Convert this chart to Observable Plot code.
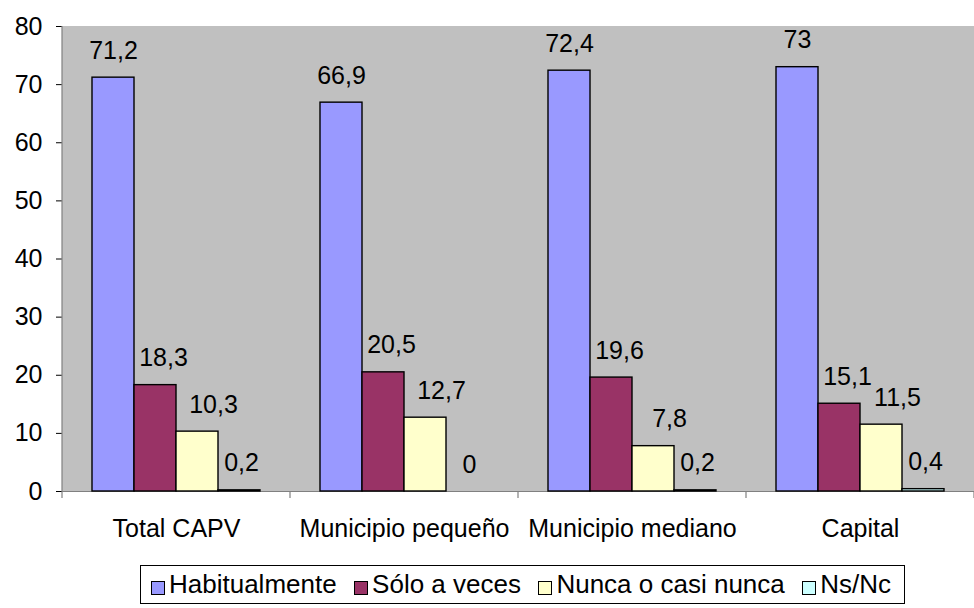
<!DOCTYPE html>
<html>
<head>
<meta charset="utf-8">
<script src="https://cdn.jsdelivr.net/npm/d3@7"></script>
<script src="https://cdn.jsdelivr.net/npm/@observablehq/plot@0.6"></script>
<style>
  body { margin: 0; background: #fff; }
  #wrap { position: relative; width: 974px; height: 608px; font-family: "Liberation Sans", Arial, sans-serif; }
  #legend { position: absolute; left: 140px; top: 565px; width: 740px; height: 37px; border: 1px solid #000;
    padding: 0 13px 0 10px; display: flex; align-items: center; justify-content: space-between;
    font-size: 26px; font-family: "Liberation Sans", Arial, sans-serif; color: #000; }
  .item { display: flex; align-items: center; white-space: nowrap; }
  .sw { width: 12px; height: 12px; border: 1px solid #000; margin-right: 4px; position: relative; top: 3px; }
  #chart svg text { font-family: "Liberation Sans", Arial, sans-serif; }
</style>
</head>
<body>
<div id="wrap"><div id="chart"></div><div id="legend"></div></div>
<script>
const categories = ["Total CAPV", "Municipio pequeño", "Municipio mediano", "Capital"];
const series = ["Habitualmente", "Sólo a veces", "Nunca o casi nunca", "Ns/Nc"];
const habitualmente = [71.2, 66.9, 72.4, 73];
const soloAVeces = [18.3, 20.5, 19.6, 15.1];
const nuncaOCasiNunca = [10.3, 12.7, 7.8, 11.5];
const nsNc = [0.2, 0, 0.2, 0.4];
const yTicks = [0, 10, 20, 30, 40, 50, 60, 70, 80];
const colors = ["#9999FF", "#993366", "#FFFFCC", "#CCFFFF"];

const seriesValues = [habitualmente, soloAVeces, nuncaOCasiNunca, nsNc];
const data = [];
categories.forEach((c, i) => series.forEach((s, j) => data.push({cat: c, series: s, value: seriesValues[j][i]})));
const fmt = d => String(d.value).replace(".", ",");
const labelDx = [0, 8, 16, 2];

const textMarks = series.map((s, j) => Plot.text(data.filter(d => d.series === s), {
  fx: "cat", x: "series", y: "value", text: fmt, dy: -27, dx: labelDx[j],
  fontSize: 25, fill: "#000"
}));

const plot = Plot.plot({
  width: 974, height: 558,
  marginLeft: 61, marginRight: 0, marginTop: 26, marginBottom: 67,
  style: {fontFamily: "Liberation Sans, Arial, sans-serif", fontSize: "25px", background: "transparent"},
  fx: {domain: categories, padding: 0, label: null},
  x: {domain: series, paddingInner: 0, paddingOuter: 0.714, axis: null},
  y: {domain: [0, 80], label: null},
  color: {domain: series, range: colors},
  marks: [
    Plot.ruleY([0], {stroke: "#808080", strokeWidth: 1.2}),
    Plot.barY(data, {fx: "cat", x: "series", y: "value", fill: "series", stroke: "#000", strokeWidth: 1.4}),
    ...textMarks,
    Plot.axisY({ticks: yTicks, tickSize: 6, tickPadding: 14, fontSize: 25, label: null, stroke: "#000", fill: "#000"}),
    Plot.axisFx({anchor: "bottom", tickSize: 0, tickPadding: 28, fontSize: 25, label: null, fill: "#000"})
  ]
});
document.getElementById("chart").appendChild(plot);

// plot-area background, axis line and category boundary ticks, positioned from Plot's own scales
const fx = plot.scale("fx");
const yS = plot.scale("y");
const y0 = yS.apply(0);
const yTop = yS.apply(yTicks[yTicks.length - 1]);
const bounds = categories.map(c => fx.apply(c)).concat([fx.apply(categories[categories.length - 1]) + fx.bandwidth]);
const svg = d3.select(plot);
svg.insert("rect", ":first-child")
  .attr("x", bounds[0]).attr("y", yTop)
  .attr("width", bounds[bounds.length - 1] - bounds[0]).attr("height", y0 - yTop)
  .attr("fill", "#C0C0C0");
const g = svg.append("g");
g.append("line")
  .attr("x1", bounds[0]).attr("x2", bounds[0]).attr("y1", yTop).attr("y2", y0)
  .attr("stroke", "#808080").attr("stroke-width", 1.2);
g.selectAll("line.bt").data(bounds).join("line").attr("class", "bt")
  .attr("x1", d => d).attr("x2", d => d)
  .attr("y1", y0).attr("y2", y0 + 7)
  .attr("stroke", "#808080").attr("stroke-width", 1.2);

// legend
const lg = d3.select("#legend");
series.forEach((s, j) => {
  const it = lg.append("div").attr("class", "item");
  it.append("div").attr("class", "sw").style("background", colors[j]);
  it.append("span").text(s);
});
</script>
</body>
</html>
